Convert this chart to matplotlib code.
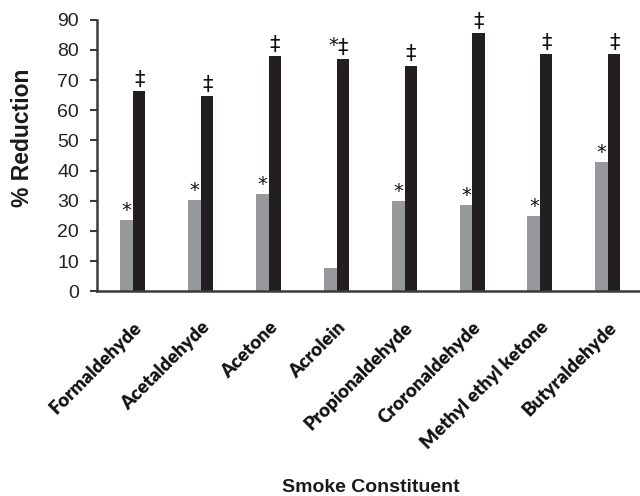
import numpy as np
import matplotlib
matplotlib.use("Agg")
import matplotlib.pyplot as plt
import matplotlib.transforms as mtransforms

constituents = ["Formaldehyde", "Acetaldehyde", "Acetone", "Acrolein",
                "Propionaldehyde", "Croronaldehyde", "Methyl ethyl ketone",
                "Butyraldehyde"]
gray_vals = [23.7, 30.2, 32.1, 7.8, 30.0, 28.5, 24.8, 42.9]
black_vals = [66.4, 64.7, 78.0, 76.9, 74.8, 85.6, 78.6, 78.6]
# significance marks drawn above each bar
gray_marks = ["*", "*", "*", "", "*", "*", "*", "*"]
black_marks = ["\u2021", "\u2021", "\u2021", "*\u2021", "\u2021", "\u2021",
               "\u2021", "\u2021"]

GRAY = "#97989b"
BLACK = "#231f20"
AXIS = "#3a3a3a"

fig = plt.figure(figsize=(6.4, 4.96), dpi=100)
ax = fig.add_axes([0.152, 0.413, 0.848, 0.547])

x = np.arange(len(constituents))
w_gray, w_black = 0.19, 0.18
ax.bar(x - w_gray / 2, gray_vals, width=w_gray, color=GRAY)
ax.bar(x + w_black / 2, black_vals, width=w_black, color=BLACK)

for xi, v, m in zip(x, gray_vals, gray_marks):
    if m:
        ax.annotate(m, (xi - w_gray / 2, v), xytext=(0, 0),
                    textcoords="offset points", ha="center", va="bottom",
                    fontsize=14, family="DejaVu Sans", color="#111111")
for xi, v, m in zip(x, black_vals, black_marks):
    # dagger centred on the bar, asterisk (if any) just left of it
    if len(m) > 1:
        ax.annotate(m[0], (xi + w_black / 2, v), xytext=(-3.5, 3),
                    textcoords="offset points", ha="right", va="bottom",
                    fontsize=14, family="DejaVu Sans", color="#111111")
    ax.annotate(m[-1], (xi + w_black / 2, v), xytext=(0, 1),
                textcoords="offset points", ha="center", va="bottom",
                fontsize=15, family="DejaVu Sans", color="#111111")

ax.set_xlim(-0.53, 7.47)
ax.set_ylim(0, 90)
ax.set_yticks(np.arange(0, 91, 10))
ax.tick_params(axis="y", direction="out", length=5, width=1.5, color=AXIS,
               pad=8, labelsize=14, labelcolor="#222222")
for lab in ax.get_yticklabels():
    lab.set_family("Liberation Sans")

ax.set_xticks(x, constituents, rotation=45, ha="right", va="center",
              rotation_mode="anchor", fontsize=13.5, fontweight="heavy",
              family="Lato", color="#111111")
ax.tick_params(axis="x", length=0, pad=24)
shift = mtransforms.ScaledTranslation(4 / 72, 0, fig.dpi_scale_trans)
for lab in ax.get_xticklabels():
    lab.set_transform(lab.get_transform() + shift)

for side in ("top", "right"):
    ax.spines[side].set_visible(False)
for side in ("left", "bottom"):
    ax.spines[side].set_color(AXIS)
    ax.spines[side].set_linewidth(1.8)

ax.set_ylabel("% Reduction", fontsize=16.5, fontweight="bold",
              family="Liberation Sans", color="#1a1a1a")
ax.yaxis.set_label_coords(-0.116, 0.565)
fig.text(0.58, 0.008, "Smoke Constituent", ha="center", va="baseline",
         fontsize=14, fontweight="bold", family="Liberation Sans",
         color="#1a1a1a")

fig.savefig("out.png", dpi=100)
